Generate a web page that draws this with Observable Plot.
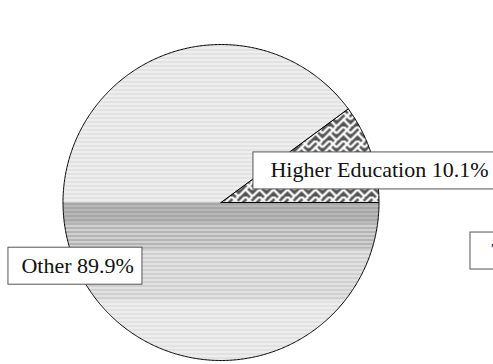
<!DOCTYPE html>
<html>
<head>
<meta charset="utf-8">
<script src="https://cdn.jsdelivr.net/npm/d3@7"></script>
<script src="https://cdn.jsdelivr.net/npm/@observablehq/plot@0.6"></script>
<style>
  html, body { margin: 0; padding: 0; background: #fff; }
  svg { display: block; }
</style>
</head>
<body>
<div id="chart"></div>
<script>
// Slice categories and their shares (percent)
const categories = ["Higher Education", "Other"];
const shares = [10.1, 89.9];

// Callout labels: text and anchor in pie units (radius = 1)
const labelTexts = ["Higher Education 10.1%", "Other 89.9%", "Total 100%"];
const labelX = [0.313, -1.263, 1.712];
const labelY = [0.203, -0.40, -0.304];
// Left padding of each callout box, in pixels
const labelPad = [18, 14, 22];

const labels = labelTexts.map((text, i) => ({text, x: labelX[i], y: labelY[i]}));

// Build slice outlines from the pie angles (counter-clockwise from 3 o'clock)
const total = d3.sum(shares);
let acc = 0;
const outline = [];
categories.forEach((c, i) => {
  const a0 = (acc / total) * 2 * Math.PI;
  acc += shares[i];
  const a1 = (acc / total) * 2 * Math.PI;
  const n = Math.max(4, Math.ceil((a1 - a0) / (Math.PI / 360)));
  outline.push({c, x: 0, y: 0});
  for (let k = 0; k <= n; ++k) {
    const t = a0 + ((a1 - a0) * k) / n;
    outline.push({c, x: Math.cos(t), y: Math.sin(t)});
  }
  outline.push({c, x: 0, y: 0});
});

const font = "'Liberation Serif', 'Times New Roman', serif";

const chart = Plot.plot({
  width: 493,
  height: 364,
  margin: 0,
  style: {background: "#fff", overflow: "hidden"},
  x: {domain: [-1, 1], range: [62.5, 378.5], axis: null},
  y: {domain: [-1, 1], range: [360, 44], axis: null},
  color: {domain: categories, range: ["url(#tex-he)", "url(#tex-other)"]},
  marks: [
    Plot.line(outline, {x: "x", y: "y", z: "c", fill: "c", stroke: "#000", strokeWidth: 1, strokeLinejoin: "miter", curve: "linear"}),
    Plot.text(labels, {x: "x", y: "y", text: "text", textAnchor: "start", fontFamily: font, fontSize: 22, fill: "#111"})
  ]
});

document.getElementById("chart").appendChild(chart);

const svg = d3.select(chart);
const defs = svg.insert("defs", ":first-child");

// Woven texture for Higher Education
const he = defs.append("pattern")
  .attr("id", "tex-he").attr("patternUnits", "userSpaceOnUse")
  .attr("width", 14).attr("height", 14);
he.append("rect").attr("width", 14).attr("height", 14).attr("fill", "#525252");
he.append("path").attr("d", "M0,14 L7,7 L14,14 M0,7 L7,0 L14,7").attr("fill", "none")
  .attr("stroke", "#fff").attr("stroke-width", 2.4);
he.append("path").attr("d", "M7,7 L14,0 M-7,7 L0,0").attr("fill", "none")
  .attr("stroke", "#fff").attr("stroke-width", 2.4);

// Horizontal line texture for Other, toned by band
const otherBands = [
  {from: 0, to: 202, a: "#dedede", b: "#e8e8e8", gap: "#f8f8f8"},
  {from: 202, to: 222, a: "#949494", b: "#bababa", gap: "#c8c8c8"},
  {from: 222, to: 248, a: "#a2a2a2", b: "#c6c6c6", gap: "#eeeeee"},
  {from: 248, to: 300, a: "#c6c6c6", b: "#dadada", gap: "#f3f3f3"},
  {from: 300, to: 364, a: "#dcdcdc", b: "#e7e7e7", gap: "#f8f8f8"}
];
const other = defs.append("pattern")
  .attr("id", "tex-other").attr("patternUnits", "userSpaceOnUse")
  .attr("width", 2).attr("height", 364);
for (const band of otherBands) {
  for (let y = band.from; y < band.to; y += 4) {
    const h = Math.min(4, band.to - y);
    other.append("rect").attr("x", 0).attr("y", y).attr("width", 1).attr("height", Math.min(3, h)).attr("fill", band.a);
    other.append("rect").attr("x", 1).attr("y", y).attr("width", 1).attr("height", Math.min(3, h)).attr("fill", band.b);
    if (h > 3) other.append("rect").attr("x", 0).attr("y", y + 3).attr("width", 2).attr("height", 1).attr("fill", band.gap);
  }
}

// Boxes behind the callout labels, placed in each label's own frame
svg.selectAll("text").filter(function () { return labelTexts.includes(this.textContent); }).each(function () {
  const i = labelTexts.indexOf(this.textContent);
  const b = this.getBBox();
  const cy = b.y + b.height / 2;
  d3.select(this.parentNode).insert("rect", ":first-child")
    .attr("transform", this.getAttribute("transform"))
    .attr("x", Math.round(b.x - labelPad[i]) + 0.5)
    .attr("y", Math.round(cy - 18.5) + 0.5)
    .attr("width", Math.round(b.width + labelPad[i] + 8))
    .attr("height", 37)
    .attr("fill", "#fff")
    .attr("stroke", "#555")
    .attr("stroke-width", 1);
});
</script>
</body>
</html>
